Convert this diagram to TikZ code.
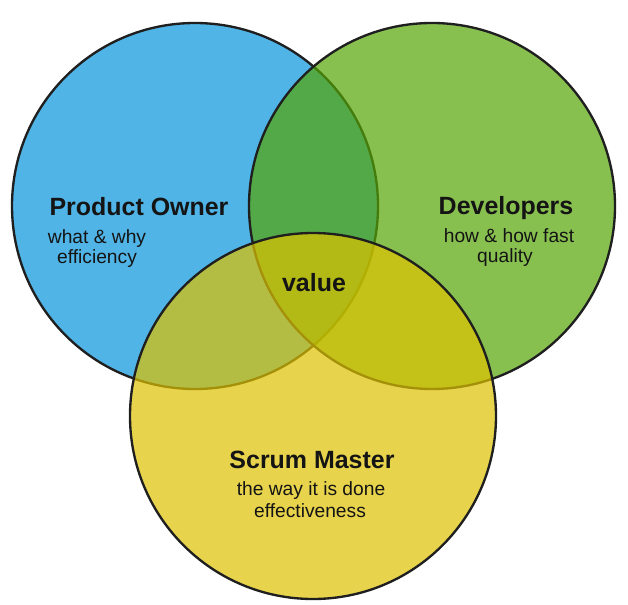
\documentclass[tikz,border=0pt]{standalone}
\usepackage{fontspec}
\setmainfont{Liberation Sans}
\usepackage{tikz}

\definecolor{poblue}{RGB}{5,148,219}
\definecolor{devgreen}{RGB}{85,165,5}
\definecolor{smyellow}{RGB}{222,194,0}
\definecolor{ink}{RGB}{20,20,20}

\begin{document}
\begin{tikzpicture}[
        x=0.03cm, y=0.03cm,
        role/.style={draw=black!88, line width=2pt, fill opacity=0.7},
        title/.style={anchor=base, text=ink, font=\fontsize{21.3}{24}\selectfont\bfseries},
        sub/.style={anchor=base, text=ink, font=\fontsize{16.4}{20}\selectfont}
    ]
        \useasboundingbox (0,0) rectangle (628,604);

        \draw[role, fill=poblue] (195,398) circle[radius=183];
        \draw[role, fill=devgreen] (432,398) circle[radius=183];
        \draw[role, fill=smyellow] (313,188) circle[radius=183];

        \node[title] (po) at (139,389) {Product Owner};
        \node[sub] (poa) at (97,361) {what \& why};
        \node[sub] (pob) at (97,341) {efficiency};

        \node[title] (dev) at (506,390) {Developers};
        \node[sub] (deva) at (509,362) {how \& how fast};
        \node[sub] (devb) at (505,342) {quality};

        \node[title] (val) at (314,313) {value};

        \node[title] (sm) at (312,136) {Scrum Master};
        \node[sub] (sma) at (311,109) {the way it is done};
        \node[sub] (smb) at (310,87) {effectiveness};
    \end{tikzpicture}
\end{document}
